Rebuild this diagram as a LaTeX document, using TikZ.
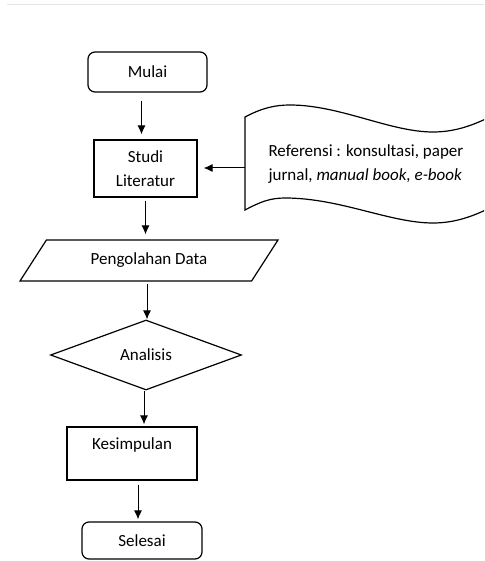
\documentclass[tikz,border=0pt]{standalone}
\usepackage{fontspec}
\setmainfont{Carlito}
\usetikzlibrary{arrows.meta,shapes.geometric}
\tikzset{
    term/.style={rectangle,rounded corners=7,draw,line width=1.2},
    proc/.style={rectangle,draw,line width=1.2},
    io/.style={trapezium,draw,line width=1.2,trapezium left angle=39,trapezium right angle=141,trapezium stretches body},
    decide/.style={diamond,draw,line width=1.2,inner sep=0},
    dedge/.style={->,> = {Latex[length=9pt,width=8pt]},line width=1},
}

\begin{document}
\begin{tikzpicture}[x=1pt,y=-1pt,every node/.style={font=\fontsize{17}{24.5}\selectfont}]
\useasboundingbox (0,0) rectangle (484,561);
\draw[gray!20,line width=1] (7,5) -- (484,5);
\node[term,minimum width=119,minimum height=40] (mulai) at (147.5,72) {Mulai};
\node[proc,minimum width=103,minimum height=57,align=center,inner sep=1] (studi) at (145.5,168.5) {Studi\\Literatur};
\node[io,minimum width=258,minimum height=41] (olah) at (149,260.5) {Pengolahan Data};
\node[decide,minimum width=191,minimum height=70] (analisis) at (146,355) {Analisis};
\node[proc,minimum width=130,minimum height=53,text depth=20] (simpul) at (132,453.5) {Kesimpulan};
\node[term,minimum width=120,minimum height=37] (selesai) at (142,540.5) {Selesai};
% dokumen referensi
\begin{scope}
\clip (0,0) rectangle (484,561);
\draw[line width=1.2] (500,203) .. controls (480,213) and (460,223) .. (433,223)
    .. controls (390,223) and (340,198) .. (285,198)
    .. controls (270,198) and (260,202) .. (245,210) -- (245,117)
    .. controls (262,108) and (275,105) .. (290,105)
    .. controls (340,105) and (390,132) .. (433,132)
    .. controls (460,132) and (480,122) .. (500,112);
\end{scope}
\coordinate (refin) at (245,168);
\node[anchor=west,align=left] (ref) at (265,164) {Referensi : konsultasi, paper\\jurnal, \textit{manual book, e-book}};
\draw[dedge,shorten <=8,shorten >=5] ([xshift=-6]mulai.south) -- ([xshift=-6]mulai.south |- studi.north);
\draw[dedge,shorten <=3,shorten >=5] (studi.south) -- (studi.south |- olah.north);
\draw[dedge,shorten <=2] ([xshift=-2]olah.south) -- ([xshift=-2]olah.south |- analisis.north);
\draw[dedge,shorten >=2] ([xshift=-2]analisis.south) -- ([xshift=-2]analisis.south |- simpul.north);
\draw[dedge,shorten <=4,shorten >=2] ([xshift=6]simpul.south) -- ([xshift=6]simpul.south |- selesai.north);
\draw[dedge,shorten >=6] (refin) -- (refin -| studi.east);
\end{tikzpicture}
\end{document}
